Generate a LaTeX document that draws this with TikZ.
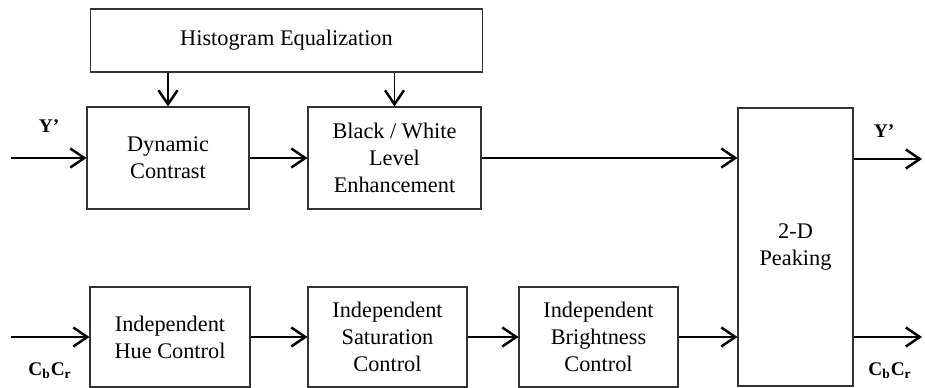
\documentclass[tikz,border=0pt]{standalone}
\usepackage{fontspec}
\setmainfont{Liberation Serif}
\usetikzlibrary{arrows.meta}

\tikzset{
  block/.style={draw=black!80,line width=0.6pt,align=center,inner sep=0pt,
    font=\fontsize{12.7}{15.4}\selectfont},
  arr/.style={line width=1.1pt,-{Straight Barb[length=2.8mm,width=3.8mm,line width=1.4pt]}},
  sig/.style={font=\fontsize{11}{13}\selectfont\bfseries}
}

\begin{document}
\begin{tikzpicture}[x=0.02cm,y=-0.02cm]
\useasboundingbox (0,0) rectangle (925,388);

\node[block,minimum width=7.86cm,minimum height=1.26cm] (he) at (286.5,40.5) {Histogram Equalization};
\node[block,minimum width=3.24cm,minimum height=2.04cm] (dc) at (168,158) {Dynamic\\Contrast};
\node[block,minimum width=3.46cm,minimum height=2.04cm] (bw) at (394.5,158) {Black / White\\Level\\Enhancement};
\node[block,minimum width=3.2cm,minimum height=2cm] (hue) at (170,337) {Independent\\Hue Control};
\node[block,minimum width=3.18cm,minimum height=2cm] (sat) at (387.5,337) {Independent\\Saturation\\Control};
\node[block,minimum width=3.18cm,minimum height=2cm] (bri) at (598.5,337) {Independent\\Brightness\\Control};
\node[block,minimum width=2.3cm,minimum height=5.56cm] (pk) at (795.5,247) {2-D\\Peaking};

\node[sig] (yin) at (49,126) {Y’};
\node[sig] (yout) at (884,131) {Y’};
\node[sig] (cin) at (50,371) {C\textsubscript{b}C\textsubscript{r}};
\node[sig] (cout) at (890,371) {C\textsubscript{b}C\textsubscript{r}};

\coordinate (ya) at (11,158);
\coordinate (yb) at (922,159);
\coordinate (ca) at (11,337);
\coordinate (cb) at (922,337);

\draw[arr] (he.south -| dc.north) -- (dc.north);
\draw[arr] (he.south -| bw.north) -- (bw.north);
\draw[arr] (ya) -- (dc.west);
\draw[arr] (dc) -- (bw);
\draw[arr] (bw.east) -- (pk.west |- bw.east);
\draw[arr] (pk.east |- yb) -- (yb);

\draw[arr] (ca) -- (hue.west);
\draw[arr] (hue) -- (sat);
\draw[arr] (sat) -- (bri);
\draw[arr] (bri.east) -- (pk.west |- bri.east);
\draw[arr] (pk.east |- cb) -- (cb);
\end{tikzpicture}
\end{document}
